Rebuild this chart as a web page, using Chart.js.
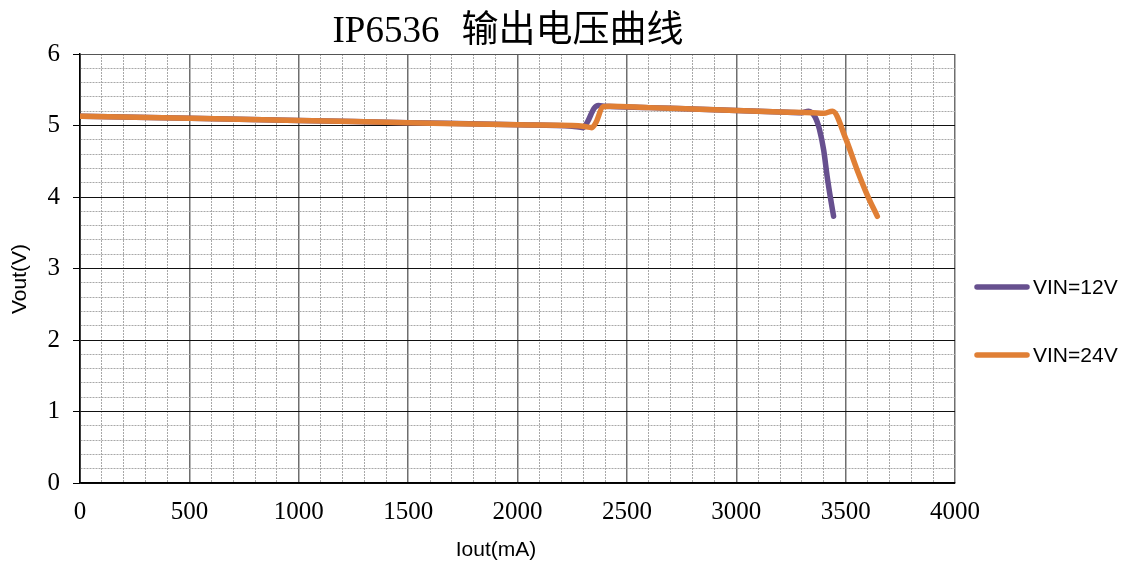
<!DOCTYPE html>
<html>
<head>
<meta charset="utf-8">
<script src="https://cdn.jsdelivr.net/npm/chart.js@4/dist/chart.umd.min.js"></script>
<style>
  html, body { margin: 0; padding: 0; background: #fff; }
  #wrap { width: 1122px; height: 563px; }
</style>
</head>
<body>
<div id="wrap"><canvas id="chart" width="1122" height="563"></canvas></div>
<script>
// values
const chartTitle = 'IP6536 输出电压曲线'
const xTitle = 'Iout(mA)'
const yTitle = 'Vout(V)'
const seriesNames = ['VIN=12V', 'VIN=24V']

const iout12 = [0, 500, 1000, 1500, 2000, 2250, 2300, 2320, 2350, 2370, 2400, 2600, 2800, 3000, 3200, 3300, 3330, 3360, 3380, 3400, 3415, 3430, 3445]
const vout12 = [5.13, 5.10, 5.07, 5.04, 5.01, 4.99, 4.97, 5.05, 5.24, 5.28, 5.27, 5.25, 5.23, 5.21, 5.19, 5.18, 5.20, 5.12, 4.95, 4.65, 4.30, 4.00, 3.73]

const iout24 = [0, 500, 1000, 1500, 2000, 2250, 2300, 2340, 2360, 2390, 2420, 2600, 2800, 3000, 3200, 3350, 3400, 3440, 3500, 3550, 3600, 3645]
const vout24 = [5.13, 5.10, 5.07, 5.04, 5.01, 5.00, 4.99, 4.97, 5.05, 5.26, 5.27, 5.25, 5.23, 5.21, 5.19, 5.18, 5.17, 5.20, 4.82, 4.40, 4.02, 3.73]

const xMajor = 500
const yMajor = 1

const colors = ['#67508f', '#e07f35']

const toPoints = (xs, ys) => xs.map((x, i) => ({ x, y: ys[i] }))

const isMajor = (v, step) => Math.abs(v / step - Math.round(v / step)) < 1e-6

// title, axis titles and the legend on the right, drawn like the Excel original
const decorations = {
  id: 'decorations',
  afterDraw(chart) {
    const { ctx } = chart
    ctx.save()
    ctx.fillStyle = '#000'
    ctx.textBaseline = 'middle'

    // title: latin part and CJK part with the wide gap of the original
    ctx.font = "37px 'Liberation Serif', 'Noto Sans CJK SC', serif"
    const [head, ...rest] = chartTitle.split(' ')
    const tail = rest.join(' ')
    const gap = 22
    const w1 = ctx.measureText(head).width
    const w2 = ctx.measureText(tail).width
    const x0 = 508 - (w1 + gap + w2) / 2
    ctx.textAlign = 'left'
    ctx.fillText(head, x0, 32)
    ctx.fillText(tail, x0 + w1 + gap, 32)

    ctx.textAlign = 'center'
    ctx.font = "21px 'Liberation Sans', Arial, sans-serif"
    ctx.fillText(xTitle, 496, 550)
    ctx.save()
    ctx.translate(20, 279)
    ctx.rotate(-Math.PI / 2)
    ctx.fillText(yTitle, 0, 0)
    ctx.restore()

    ctx.textAlign = 'left'
    chart.data.datasets.forEach((ds, i) => {
      const y = 287 + i * 68
      ctx.strokeStyle = ds.borderColor
      ctx.lineWidth = 5.5
      ctx.lineCap = 'round'
      ctx.beginPath()
      ctx.moveTo(977, y)
      ctx.lineTo(1027, y)
      ctx.stroke()
      ctx.fillText(ds.label, 1033, y + 1)
    })
    ctx.restore()
  }
}

new Chart(document.getElementById('chart'), {
  type: 'line',
  data: {
    datasets: [
      // orange is painted over the purple one, as in the original
      { label: seriesNames[0], data: toPoints(iout12, vout12), borderColor: colors[0], order: 1 },
      { label: seriesNames[1], data: toPoints(iout24, vout24), borderColor: colors[1], order: 0 },
    ].map(ds => ({
      ...ds,
      borderWidth: 5.5,
      pointRadius: 0,
      fill: false,
      cubicInterpolationMode: 'monotone',
      borderCapStyle: 'round',
      borderJoinStyle: 'round',
    })),
  },
  options: {
    responsive: false,
    animation: false,
    layout: { padding: { top: 54, right: 167, left: 0, bottom: 0 } },
    plugins: {
      legend: { display: false },
      title: { display: false },
      tooltip: { enabled: false },
    },
    scales: {
      x: {
        type: 'linear',
        min: 0,
        max: 4000,
        afterFit: (s) => { s.height = 80 },
        ticks: {
          stepSize: 100,
          autoSkip: false,
          maxRotation: 0,
          padding: 14,
          color: '#000',
          font: { size: 25, family: "'Liberation Serif', serif" },
          callback: (v) => isMajor(v, xMajor) ? String(v) : '',
        },
        grid: {
          drawTicks: false,
          color: (c) => c.tick && c.tick.value === 0 ? '#000' : (c.tick && isMajor(c.tick.value, xMajor) ? '#6e6e6e' : '#a8a8a8'),
          lineWidth: (c) => c.tick && isMajor(c.tick.value, xMajor) ? 1.5 : 1,
        },
        border: {
          display: true,
          color: '#000',
          width: 1.5,
          dash: (c) => c.tick && !isMajor(c.tick.value, xMajor) ? [2, 1] : [],
        },
      },
      y: {
        type: 'linear',
        min: 0,
        max: 6,
        afterFit: (s) => { s.width = 80 },
        ticks: {
          stepSize: 0.2,
          autoSkip: false,
          padding: 13,
          color: '#000',
          font: { size: 25, family: "'Liberation Serif', serif" },
          callback: (v) => isMajor(v, yMajor) ? String(Math.round(v)) : '',
        },
        grid: {
          drawTicks: true,
          tickLength: 7,
          tickColor: (c) => c.tick && isMajor(c.tick.value, yMajor) ? '#000' : 'rgba(0,0,0,0)',
          color: (c) => c.tick && isMajor(c.tick.value, yMajor) ? (c.tick.value === 6 ? '#555' : '#111') : '#a8a8a8',
          lineWidth: 1,
        },
        border: {
          display: true,
          color: '#000',
          width: 1.5,
          dash: (c) => c.tick && !isMajor(c.tick.value, yMajor) ? [2, 1] : [],
        },
      },
    },
  },
  plugins: [decorations],
})
</script>
</body>
</html>
